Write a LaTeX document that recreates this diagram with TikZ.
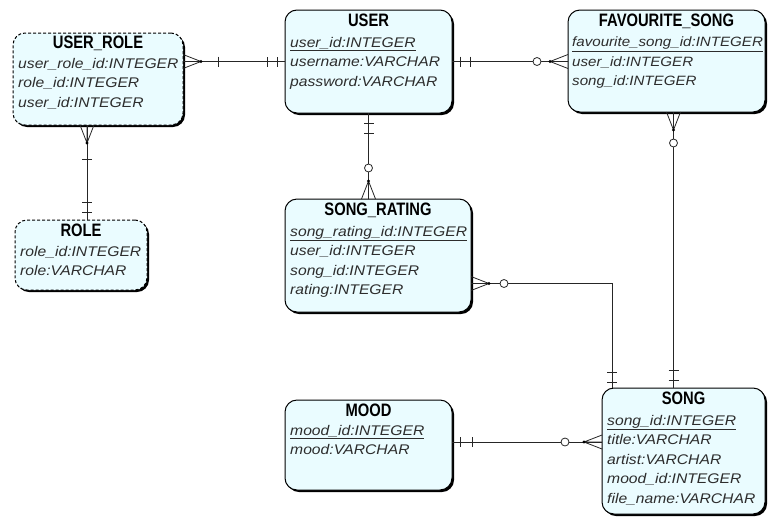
\documentclass[tikz,border=0pt]{standalone}
\usepackage{fontspec}
\setmainfont{Liberation Sans}
\newfontfamily\headfont[FakeStretch=0.82]{Liberation Sans}
\newfontfamily\attrfont[FakeStretch=1.12]{Liberation Sans}
\usetikzlibrary{shadows}
\definecolor{entfill}{RGB}{234,252,255}
\definecolor{attrtext}{RGB}{45,45,45}
\tikzset{
  entity/.style={draw=black, fill=entfill, rounded corners=12pt, line width=1pt, anchor=north west,
    outer sep=0pt, inner sep=0pt, drop shadow={shadow xshift=2pt, shadow yshift=-2pt, fill=black, opacity=1}},
  weak/.style={entity, dash pattern=on 3pt off 2pt},
  head/.style={font=\headfont\bfseries\fontsize{18}{18}\selectfont, inner sep=0pt, anchor=north},
  attrs/.style={font=\attrfont\itshape\fontsize{14}{19.5}\selectfont, text=attrtext, align=left, inner sep=0pt, anchor=north west},
  rel/.style={line width=0.8pt, draw=black!85},
  many/.pic={\draw[rel] (0,-7) -- (18,0) -- (0,7) (0,0) -- (18,0); \fill[black] (18,0) circle (1.6pt);},
  bar/.pic={\draw[rel] (#1,-5) -- (#1,5);},
  ring/.pic={\draw[rel, fill=white] (#1,0) circle (4pt);},
}
\begin{document}
\begin{tikzpicture}[x=1pt, y=-1pt]
\useasboundingbox (0,0) rectangle (768,517);
% entities
\node[weak, minimum width=170pt, minimum height=92pt] (userrole) at (13,33) {};
\node[head] (userrole_h) at ([yshift=-3pt]userrole.north) {USER\_ROLE};
\node[attrs] (userrole_a) at ([shift={(5,25)}]userrole.north west) {user\_role\_id:INTEGER\\role\_id:INTEGER\\user\_id:INTEGER};

\node[entity, minimum width=167pt, minimum height=103pt] (user) at (285,10) {};
\node[head] (user_h) at ([yshift=-4pt]user.north) {USER};
\node[attrs] (user_a) at ([shift={(5,27)}]user.north west) {\underline{user\_id:INTEGER}\\username:VARCHAR\\password:VARCHAR};

\node[entity, minimum width=197pt, minimum height=102pt] (fav) at (568,10) {};
\node[head] (fav_h) at ([yshift=-4pt]fav.north) {FAVOURITE\_SONG};
\node[attrs, font=\attrfont\itshape\fontsize{13.5}{19.5}\selectfont] (fav_a) at ([shift={(4,27)}]fav.north west) {\underline{favourite\_song\_id:INTEGER}\\user\_id:INTEGER\\song\_id:INTEGER};

\node[weak, minimum width=132pt, minimum height=70pt] (role) at (15,220) {};
\node[head] (role_h) at ([yshift=-4pt]role.north) {ROLE};
\node[attrs] (role_a) at ([shift={(5,26)}]role.north west) {role\_id:INTEGER\\role:VARCHAR};

\node[entity, minimum width=186pt, minimum height=113pt] (songrating) at (285,199) {};
\node[head] (songrating_h) at ([yshift=-4pt]songrating.north) {SONG\_RATING};
\node[attrs] (songrating_a) at ([shift={(5,27)}]songrating.north west) {\underline{song\_rating\_id:INTEGER}\\user\_id:INTEGER\\song\_id:INTEGER\\rating:INTEGER};

\node[entity, minimum width=167pt, minimum height=90pt] (mood) at (285,400) {};
\node[head] (mood_h) at ([yshift=-4pt]mood.north) {MOOD};
\node[attrs] (mood_a) at ([shift={(5,25)}]mood.north west) {\underline{mood\_id:INTEGER}\\mood:VARCHAR};

\node[entity, minimum width=163pt, minimum height=126pt] (song) at (602,388) {};
\node[head] (song_h) at ([yshift=-4pt]song.north) {SONG};
\node[attrs] (song_a) at ([shift={(5,27)}]song.north west) {\underline{song\_id:INTEGER}\\title:VARCHAR\\artist:VARCHAR\\mood\_id:INTEGER\\file\_name:VARCHAR};

% ports
\coordinate (urport) at ([xshift=-11pt]userrole.south);
\coordinate (fsport) at ([xshift=7pt]fav.south);
\coordinate (srport) at ([yshift=-28pt]songrating.east);
\coordinate (songtop) at ([xshift=10pt]song.north west);
\coordinate (mport) at ([yshift=3pt]mood.east);

% relationships
\draw[rel] (userrole.east |- user.west) -- (user.west);
\pic at (userrole.east |- user.west) {many};
\pic at (userrole.east |- user.west) {bar=35};
\pic[rotate=180] at (user.west) {bar=8};
\pic[rotate=180] at (user.west) {bar=18};

\draw[rel] (user.east) -- (user.east -| fav.west);
\pic at (user.east) {bar=8};
\pic at (user.east) {bar=18};
\pic[rotate=180] at (user.east -| fav.west) {many};
\pic[rotate=180] at (user.east -| fav.west) {ring=31};

\draw[rel] (user.south) -- (user.south |- songrating.north);
\pic[rotate=-90] at (user.south) {bar=10};
\pic[rotate=-90] at (user.south) {bar=20};
\pic[rotate=90] at (user.south |- songrating.north) {many};
\pic[rotate=90] at (user.south |- songrating.north) {ring=31};

\draw[rel] (urport) -- (urport |- role.north);
\pic[rotate=-90] at (urport) {many};
\pic[rotate=-90] at (urport) {bar=34};
\pic[rotate=90] at (urport |- role.north) {bar=8};
\pic[rotate=90] at (urport |- role.north) {bar=18};

\draw[rel] (fsport) -- (fsport |- song.north);
\pic[rotate=-90] at (fsport) {many};
\pic[rotate=-90] at (fsport) {ring=31};
\pic[rotate=90] at (fsport |- song.north) {bar=8};
\pic[rotate=90] at (fsport |- song.north) {bar=18};

\draw[rel] (srport) -| (songtop);
\pic at (srport) {many};
\pic at (srport) {ring=33};
\pic[rotate=90] at (songtop) {bar=6};
\pic[rotate=90] at (songtop) {bar=16};

\draw[rel] (mport) -- (mport -| song.west);
\pic at (mport) {bar=8};
\pic at (mport) {bar=20};
\pic[rotate=180] at (mport -| song.west) {many};
\pic[rotate=180] at (mport -| song.west) {ring=37};
\end{tikzpicture}
\end{document}
